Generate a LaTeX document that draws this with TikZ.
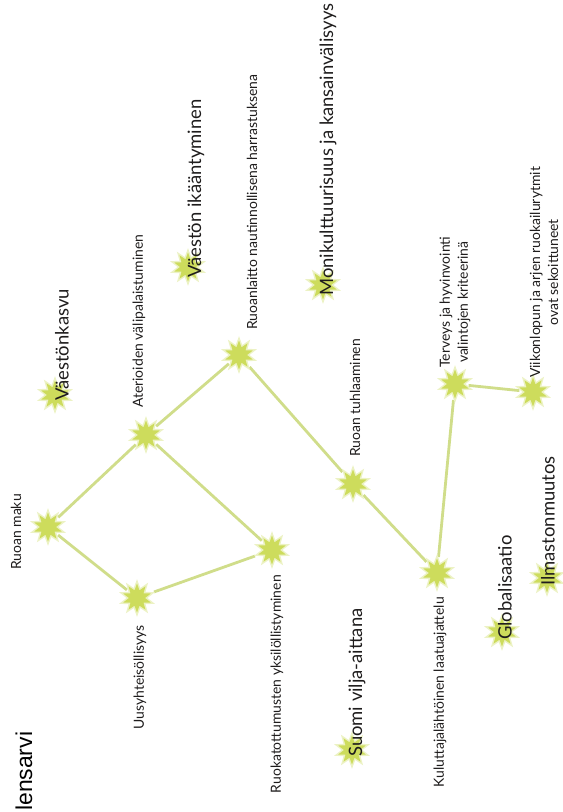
\documentclass[tikz,border=0pt]{standalone}
\usepackage{fontspec}
\setmainfont{Lato}
\newfontfamily\arialfont{Liberation Sans}
\usepackage{tikz}
\usetikzlibrary{
  positioning,
  shapes.geometric,
  backgrounds
}
\definecolor{StarGreen}{RGB}{205,220,92}
\definecolor{GlowGreen}{RGB}{236,242,196}
\definecolor{LinkGreen}{RGB}{208,221,138}
\definecolor{LabelInk}{RGB}{30,28,28}
\tikzset{
  spark/.style={star,star points=10,star point ratio=1.8,minimum size=29bp,inner sep=0pt,fill=StarGreen,preaction={draw=GlowGreen,line width=3bp}},
  trendlabel/.style={rotate=90,font=\fontsize{14}{18}\selectfont,text=LabelInk,inner sep=0pt,align=center},
  megalabel/.style={rotate=90,font=\fontsize{18.5}{22}\selectfont,text=LabelInk,inner sep=0pt},
  link/.style={draw=LinkGreen,line width=2.8bp,shorten <=4bp,shorten >=4bp}
}
\begin{document}
\begin{tikzpicture}[x=1bp,y=-1bp]
\useasboundingbox (0,0) rectangle (563,812);
% trend stars
\node[spark] (rm) at (48,527) {};
\node[spark] (uy) at (137,598) {};
\node[spark] (av) at (146,435) {};
\node[spark] (rn) at (239,355) {};
\node[spark] (ry) at (272,550) {};
\node[spark] (rt) at (353,484) {};
\node[spark] (kl) at (437,573) {};
\node[spark] (th) at (455,384) {};
\node[spark] (vr) at (533,392) {};
% megatrend stars
\node[spark] (vk) at (55,395) {};
\node[spark] (vi) at (188,267) {};
\node[spark] (mk) at (323,285) {};
\node[spark] (sv) at (352,750) {};
\node[spark] (gl) at (502,632) {};
\node[spark] (il) at (547,578) {};

% labels
\node[trendlabel] (rm-l) at (16,532) {Ruoan maku};
\node[trendlabel, anchor=east] (uy-l) at (140,625) {Uusyhteisöllisyys};
\node[trendlabel, anchor=west] (av-l) at (139,408) {Aterioiden välipalaistuminen};
\node[trendlabel, anchor=west] (rn-l) at (252,330) {Ruoanlaitto nautinnollisena harrastuksena};
\node[trendlabel, anchor=east] (ry-l) at (277,575) {Ruokatottumusten yksilöllistyminen};
\node[trendlabel, anchor=west] (rt-l) at (355,457) {Ruoan tuhlaaminen};
\node[trendlabel, anchor=east] (kl-l) at (440,597) {Kuluttajalähtöinen laatuajattelu};
\node[trendlabel, anchor=west] (th-l) at (455,368) {Terveys ja hyvinvointi\\valintojen kriteerinä};
\node[trendlabel, anchor=west] (vr-l) at (544,378) {Viikonlopun ja arjen ruokailurytmit\\ovat sekoittuneet};
\node[megalabel, anchor=west] (vk-l) at (62,401) {Väestönkasvu};
\node[megalabel, anchor=west] (vi-l) at (196,278) {Väestön ikääntyminen};
\node[megalabel, anchor=west] (mk-l) at (328,296) {Monikulttuurisuus ja kansainvälisyys};
\node[megalabel, anchor=west] (sv-l) at (357,757) {Suomi vilja-aittana};
\node[megalabel, anchor=west] (gl-l) at (505,640) {Globalisaatio};
\node[megalabel, anchor=west] (il-l) at (548,586) {Ilmastonmuutos};
\node[rotate=90, anchor=base west, inner sep=0pt, font=\arialfont\fontsize{23}{26}\selectfont] (title) at (32,811) {lensarvi};

\begin{scope}[on background layer]
\draw[link] (rm) -- (av);
\draw[link] (rm) -- (uy);
\draw[link] (uy) -- (ry);
\draw[link] (av) -- (ry);
\draw[link] (av) -- (rn);
\draw[link] (rn) -- (rt);
\draw[link] (rt) -- (kl);
\draw[link] (kl) -- (th);
\draw[link] (th) -- (vr);
\end{scope}
\end{tikzpicture}
\end{document}
